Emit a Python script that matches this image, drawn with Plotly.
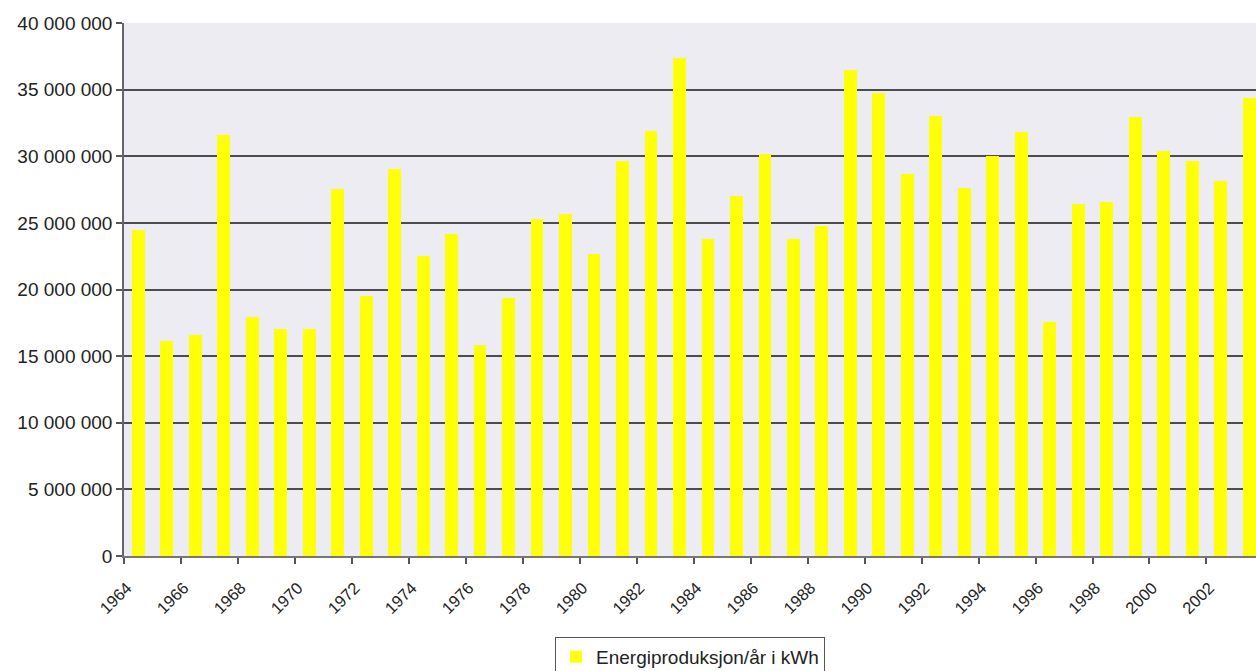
import plotly.graph_objects as go

years = list(range(1964, 2004))
energy_mkwh = [24.5, 16.1, 16.55, 31.6, 17.9, 17.05, 17.05, 27.55, 19.55, 29.05,
               22.5, 24.15, 15.85, 19.4, 25.3, 25.65, 22.65, 29.65, 31.9, 37.4,
               23.8, 27.05, 30.15, 23.8, 24.8, 36.5, 34.75, 28.65, 33.05, 27.65,
               30.05, 31.85, 17.55, 26.4, 26.55, 32.95, 30.4, 29.65, 28.15, 34.4]
values = [v * 1_000_000 for v in energy_mkwh]
tick_years = list(range(1964, 2003, 2))
tick_labels = [str(y) for y in tick_years]
series_name = "Energiproduksjon/år i kWh"

fig = go.Figure()
fig.add_trace(go.Bar(
    x=[y + 0.5 for y in years],
    y=values,
    width=0.45,
    name=series_name,
    marker=dict(color="#FFFF0A", line=dict(width=0)),
    showlegend=True,
))

font_family = "Liberation Sans, Arial, sans-serif"

fig.update_layout(
    width=1256, height=671,
    margin=dict(l=124, r=0, t=23, b=115, autoexpand=False),
    paper_bgcolor="white",
    plot_bgcolor="#EDECF3",
    separators=", ",
    font=dict(family=font_family, color="#222222"),
    showlegend=True,
    legend=dict(
        x=0.5, xanchor="center", y=-0.152, yanchor="top",
        bordercolor="#555555", borderwidth=1, bgcolor="white",
        font=dict(size=19, color="#222222"),
    ),
    bargap=0,
)
fig.update_xaxes(
    range=[1964, 2003.74],
    tickmode="array", tickvals=tick_years, ticktext=tick_labels,
    tickangle=-45, automargin=False,
    ticklabelstandoff=8, ticklabelshift=3,
    ticks="outside", ticklen=6, tickcolor="#555555", tickwidth=1.5,
    showline=True, linecolor="#777777", linewidth=1.5,
    showgrid=False, zeroline=False,
    tickfont=dict(size=16.5, color="#222222"),
)
fig.update_yaxes(
    range=[0, 40_000_000],
    tickmode="linear", tick0=0, dtick=5_000_000,
    tickformat=",d", automargin=False,
    ticks="outside", ticklen=6, tickcolor="#555555", tickwidth=1.5,
    showline=True, linecolor="#666666", linewidth=1.5,
    showgrid=True, gridcolor="#4d4d4d", gridwidth=1.5,
    zeroline=False,
    tickfont=dict(size=19, color="#222222"),
)

fig.write_html(
    "out.html",
    config={"displayModeBar": False},
    post_script="document.body.style.margin='0';document.body.style.overflow='hidden';",
)
